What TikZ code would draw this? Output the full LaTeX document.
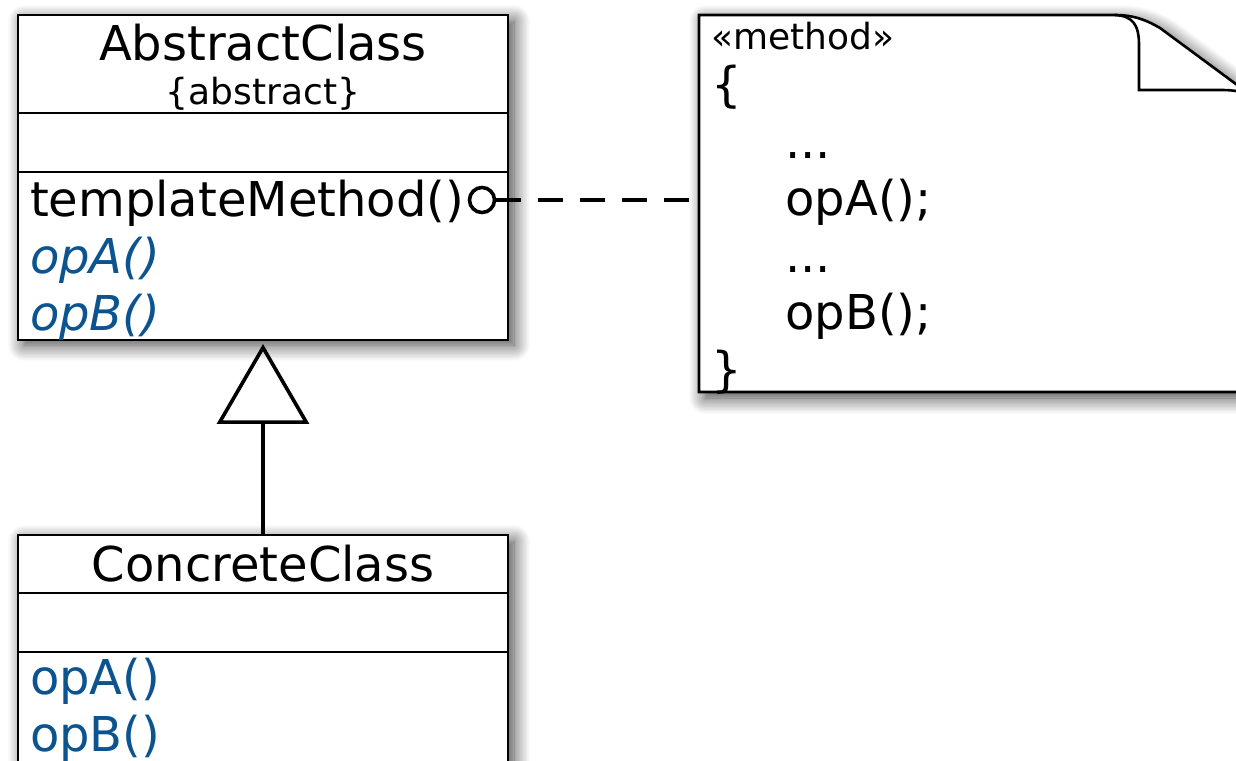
\documentclass[tikz,border=0pt]{standalone}
\usepackage{fontspec}
\setmainfont{DejaVu Sans}
\usepackage{tikz}
\usetikzlibrary{positioning, calc, arrows.meta, shadows.blur}
\definecolor{opblue}{RGB}{11,84,143}
\tikzset{compartment/.style={draw, line width=1.3pt, fill=white, anchor=north,
    minimum width=245pt, text width=233pt, inner xsep=6pt, inner ysep=0pt, outer sep=0pt}}
\tikzset{boxshadow/.style={fill=white, blur shadow={shadow xshift=3pt, shadow yshift=-3pt,
    shadow blur radius=8pt, shadow blur steps=12, shadow opacity=75}}}
\tikzset{noteline/.style={line width=1.3pt}}
\tikzset{conn/.style={line width=1.8pt}}

\begin{document}
\begin{tikzpicture}[x=0.5pt, y=-0.5pt, every node/.style={font=\fontsize{24}{28.5}\selectfont}]

      \useasboundingbox (0,0) rectangle (1236,760);
      \clip (0,0) rectangle (1236,760);

      % SHADOWS

      \path[boxshadow] (18,15) rectangle (508,339);
      \path[boxshadow] (18,535) rectangle (508,767);

      % CLASSES

      \node[compartment, minimum height=49pt, align=center, font=\fontsize{24}{22}\selectfont] (absName) at (263,15)
        {\rule{0pt}{21pt}AbstractClass\\{\fontsize{18}{22}\selectfont\{abstract\}}};
      \node[compartment, minimum height=29.5pt, below=0pt of absName] (absAttr) {};
      \node[compartment, minimum height=83.5pt, below=0pt of absAttr, align=left] (absOps)
        {\rule{0pt}{22pt}templateMethod()\\\textcolor{opblue}{\itshape opA()}\\\textcolor{opblue}{\itshape opB()}};

      \node[compartment, minimum height=29pt, align=center] (conName) at (263,535) {ConcreteClass};
      \node[compartment, minimum height=29.5pt, below=0pt of conName] (conAttr) {};
      \node[compartment, minimum height=58pt, below=0pt of conAttr, align=left] (conOps)
        {\textcolor{opblue}{opA()}\\\textcolor{opblue}{opB()}};

      % NOTE

      \node[anchor=north west, minimum width=274.5pt, minimum height=188.5pt, inner sep=0pt, outer sep=0pt] (note) at (699,15) {};
      \draw[noteline, boxshadow] (note.north west) -- ($(note.north east)+(-133,0)$)
        .. controls ($(note.north east)+(-113,0)$) and ($(note.north east)+(-100,6)$) .. ($(note.north east)+(-88,13)$)
        -- ($(note.north east)+(0,78)$) -- (note.south east) -- (note.south west) -- cycle;
      \draw[noteline] ($(note.north east)+(-133,0)$)
        .. controls ($(note.north east)+(-115,1)$) and ($(note.north east)+(-109,10)$) .. ($(note.north east)+(-109,30)$)
        -- ($(note.north east)+(-109,75)$) -- ($(note.north east)+(-26,75)$)
        .. controls ($(note.north east)+(-13,75)$) and ($(note.north east)+(-6,77)$) .. ($(note.north east)+(0,80)$);

      \node[anchor=base west, inner sep=0pt] (noteText) at ($(note.north west)+(12,34)$) {
        \begin{tabular}[t]{@{}l@{}}
          {\fontsize{18}{22}\selectfont «method»} \\[-2.5pt]
          \{ \\
          \hspace*{37pt}... \\
          \hspace*{37pt}opA(); \\
          \hspace*{37pt}... \\
          \hspace*{37pt}opB(); \\
          \}
        \end{tabular}
      };

      % CONNECTORS

      \node[circle, draw, fill=white, line width=1.8pt, minimum size=12.5pt, inner sep=0pt] (lolli) at (482,200) {};
      \draw[conn] (lolli) -- (lolli -| absOps.east);
      \draw[conn, dash pattern=on 12.5pt off 8.5pt, dash phase=16pt] (note.west |- lolli) -- (lolli -| absOps.east);

      \draw[conn, -{Triangle[open, length=40pt, width=46pt]}, shorten >=2pt] (conName) -- (absOps);
    \end{tikzpicture}
\end{document}
